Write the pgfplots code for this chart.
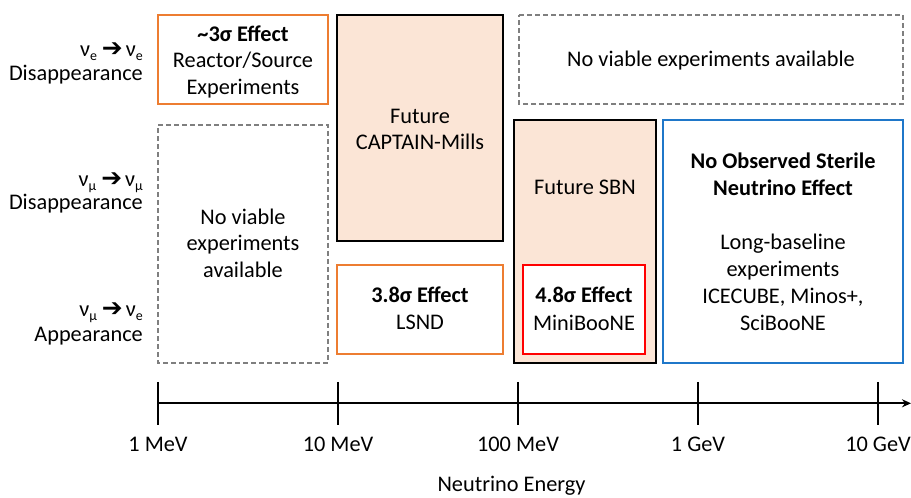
\documentclass[border=0pt]{standalone}
\usepackage{fontspec}
\setmainfont{Carlito}
\newfontfamily\arrowfont{DejaVu Sans}
\usepackage{pgfplots}
\pgfplotsset{compat=1.18}
\usetikzlibrary{arrows.meta}
\definecolor{orng}{HTML}{ED7D31}
\definecolor{pinkfill}{HTML}{FBE5D6}
\definecolor{bluebox}{HTML}{1F77C9}
\definecolor{dashgray}{HTML}{7F7F7F}
\newcommand\sub[1]{\raisebox{-0.3ex}{\fontsize{14}{14}\selectfont #1}}
\newcommand\arr{\raisebox{0.5bp}{\arrowfont\fontsize{25}{25}\selectfont ➔}}
\newcommand\bigfont{\fontsize{22.4}{26}\selectfont}
\tikzset{txt/.style={anchor=base,inner sep=0pt,font=\bigfont},
         rtxt/.style={anchor=base east,inner sep=0pt,font=\bigfont}}
\begin{document}
\begin{tikzpicture}[x=1bp,y=1bp]
\useasboundingbox (0,0) rectangle (911,498);
\begin{axis}[at={(0,0)},anchor=south west,scale only axis,
  width=911bp,height=498bp,
  xmin=-0.877778,xmax=4.183333,ymin=0,ymax=498,
  hide axis,clip=false,
  line join=miter]
% boxes (x = log10(E/MeV), y = vertical layout units)
\addplot[draw=orng,line width=2.5bp] coordinates {(0,483) (0.9444,483) (0.9444,394) (0,394)} -- cycle;
\addplot[draw=dashgray,line width=1.3bp,dash pattern=on 5bp off 3bp] coordinates {(0,373) (0.9444,373) (0.9444,135) (0,135)} -- cycle;
\addplot[draw=black,fill=pinkfill,line width=2.7bp] coordinates {(0.9944,483) (1.9167,483) (1.9167,257) (0.9944,257)} -- cycle;
\addplot[draw=dashgray,line width=1.3bp,dash pattern=on 5bp off 3bp] coordinates {(2.0056,483) (4.1389,483) (4.1389,394) (2.0056,394)} -- cycle;
\addplot[draw=orng,line width=2.5bp] coordinates {(0.9944,233) (1.9167,233) (1.9167,144) (0.9944,144)} -- cycle;
\addplot[draw=black,fill=pinkfill,line width=2.7bp] coordinates {(1.9778,378) (2.7667,378) (2.7667,135) (1.9778,135)} -- cycle;
\addplot[draw=red,fill=white,line width=2bp] coordinates {(2.0278,233) (2.7056,233) (2.7056,144) (2.0278,144)} -- cycle;
\addplot[draw=bluebox,line width=2.5bp] coordinates {(2.8056,378) (4.1389,378) (4.1389,135) (2.8056,135)} -- cycle;
% energy axis
\addplot[line width=2.3bp,-{Stealth[length=9bp,width=8bp]}] coordinates {(0,94.7) (4.1833,94.7)};
\addplot[line width=2bp] coordinates {(0,116) (0,73)};
\addplot[line width=2bp] coordinates {(1,116) (1,73)};
\addplot[line width=2bp] coordinates {(2,116) (2,73)};
\addplot[line width=2bp] coordinates {(3,116) (3,73)};
\addplot[line width=2bp] coordinates {(4,116) (4,73)};
\node[txt] at (axis cs:0,46) {1 MeV};
\node[txt] at (axis cs:1,46) {10 MeV};
\node[txt] at (axis cs:2,46) {100 MeV};
\node[txt] at (axis cs:3,46) {1 GeV};
\node[txt] at (axis cs:4,46) {10 GeV};
\node[txt] at (axis cs:1.9639,6) {Neutrino Energy};
% row labels
\node[rtxt] at (axis cs:-0.0833,441) {ν\sub{e}\hspace{5bp}\arr\hspace{3bp}ν\sub{e}};
\node[rtxt] at (axis cs:-0.0833,417) {Disappearance};
\node[rtxt] at (axis cs:-0.0833,311) {ν\sub{μ}\hspace{5bp}\arr\hspace{3bp}ν\sub{μ}};
\node[rtxt] at (axis cs:-0.0833,288) {Disappearance};
\node[rtxt] at (axis cs:-0.0833,181) {ν\sub{μ}\hspace{5bp}\arr\hspace{3bp}ν\sub{e}};
\node[rtxt] at (axis cs:-0.0833,156) {Appearance};
% box texts
\node[txt] at (axis cs:0.4722,456) {\bfseries\textasciitilde 3σ Effect};
\node[txt] at (axis cs:0.4722,430) {Reactor/Source};
\node[txt] at (axis cs:0.4722,403) {Experiments};
\node[txt] at (axis cs:0.4722,273) {No viable};
\node[txt] at (axis cs:0.4722,247) {experiments};
\node[txt] at (axis cs:0.4722,220) {available};
\node[txt] at (axis cs:1.4556,374) {Future};
\node[txt] at (axis cs:1.4556,348) {CAPTAIN-Mills};
\node[txt] at (axis cs:3.0722,431) {No viable experiments available};
\node[txt] at (axis cs:1.4556,195) {\bfseries 3.8σ Effect};
\node[txt] at (axis cs:1.4556,168) {LSND};
\node[txt] at (axis cs:2.3722,303) {Future SBN};
\node[txt] at (axis cs:2.3667,195) {\bfseries 4.8σ Effect};
\node[txt] at (axis cs:2.3667,167) {MiniBooNE};
\node[txt] at (axis cs:3.4722,329) {\bfseries No Observed Sterile};
\node[txt] at (axis cs:3.4722,302) {\bfseries Neutrino Effect};
\node[txt] at (axis cs:3.4722,248) {Long-baseline};
\node[txt] at (axis cs:3.4722,221) {experiments};
\node[txt] at (axis cs:3.4722,194) {ICECUBE, Minos+,};
\node[txt] at (axis cs:3.4722,167) {SciBooNE};
\end{axis}
\end{tikzpicture}
\end{document}
